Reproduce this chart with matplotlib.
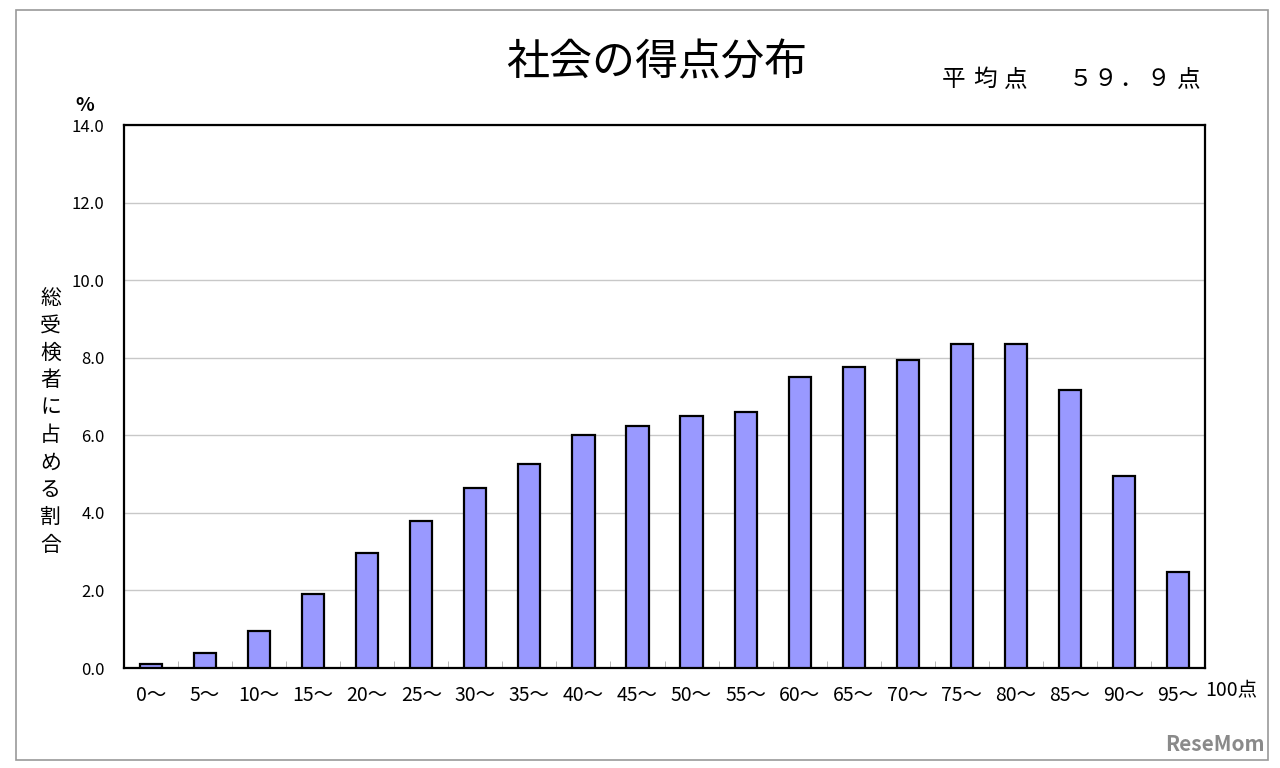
import numpy as np
import matplotlib.pyplot as plt
from matplotlib.patches import Rectangle

plt.rcParams['font.family'] = ['Noto Sans CJK JP', 'DejaVu Sans']

# score bins and share of examinees (%)
bins = ["0～", "5～", "10～", "15～", "20～", "25～", "30～", "35～", "40～", "45～",
        "50～", "55～", "60～", "65～", "70～", "75～", "80～", "85～", "90～", "95～"]
share = [0.1, 0.38, 0.95, 1.9, 2.96, 3.79, 4.63, 5.26, 6.0, 6.24,
         6.51, 6.6, 7.5, 7.77, 7.95, 8.35, 8.35, 7.18, 4.95, 2.47]
yticks = [0, 2, 4, 6, 8, 10, 12, 14]

fig = plt.figure(figsize=(12.8, 7.68), dpi=100)
ax = fig.add_axes([0.0969, 0.1302, 0.8445, 0.707])

x = np.arange(len(bins))
ax.bar(x, share, width=0.41, color="#9999FF", edgecolor="black", linewidth=1.6, zorder=3)

ax.set_xlim(-0.5, len(bins) - 0.5)
ax.set_ylim(0, 14)
ax.set_yticks(yticks)
ax.set_yticklabels(["{:.1f}".format(v) for v in yticks], fontsize=12)
ax.yaxis.grid(True, color="#c8c8c8", linewidth=1, zorder=0)
ax.set_xticks(x)
ax.set_xticklabels(bins, fontsize=14)
ax.set_xticks(np.arange(len(bins) - 1) + 0.5, minor=True)
ax.tick_params(axis="x", which="major", length=0, pad=12)
ax.tick_params(axis="x", which="minor", direction="in", length=5, color="#aaaaaa")
ax.tick_params(axis="y", length=0, pad=14)
for sp in ax.spines.values():
    sp.set_linewidth(1.6)
    sp.set_color("black")

ax.text(19.98, -0.58, "100点", fontsize=14, ha="center", va="center", clip_on=False)
ax.text(-1.22, 14.5, "%", fontsize=14, fontweight="bold", ha="center", va="center", clip_on=False)

# vertical y label
ylab = "総受検者に占める割合"
for i, ch in enumerate(ylab):
    fig.text(0.0395, 0.612 - i * 0.0357, ch, fontsize=15, ha="center", va="center")

fig.text(0.513, 0.918, "社会の得点分布", fontsize=31, ha="center", va="center")

# mean score, spaced out like the original
mean_chars = ["平", "均", "点", "５", "９", "．", "９", "点"]
mean_x = [954, 985, 1016, 1081, 1105, 1131, 1158, 1189]
for ch, px in zip(mean_chars, mean_x):
    fig.text(px / 1280, 0.897, ch, fontsize=17, ha="center", va="center")

fig.text(0.988, 0.03, "ReseMom", fontsize=15, fontweight="bold", color="#8a8a8a",
         ha="right", va="center")

# outer frame
fig.patches.append(Rectangle((0.0125, 0.0104), 0.978, 0.977, transform=fig.transFigure,
                             fill=False, edgecolor="#999999", linewidth=1.2))

fig.savefig("out.png", dpi=100)
